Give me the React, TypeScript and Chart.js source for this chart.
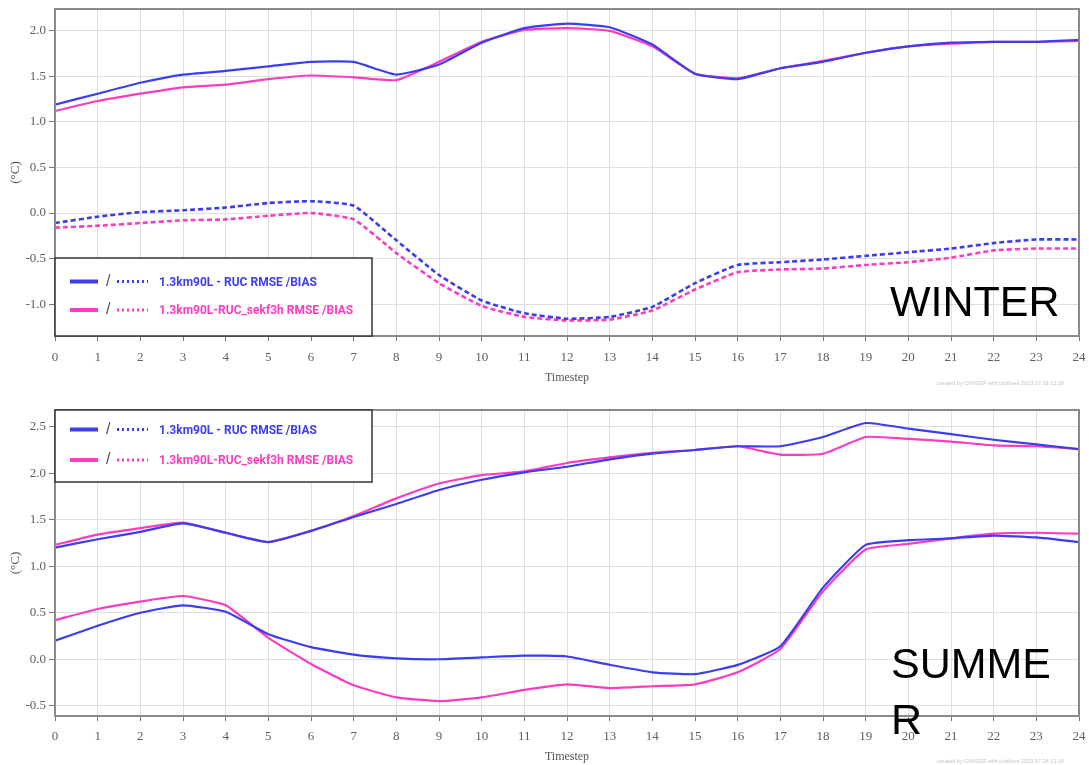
import React, { useEffect, useRef } from "react";
import { Chart, registerables } from "chart.js";

Chart.register(...registerables);

const timesteps = [0, 1, 2, 3, 4, 5, 6, 7, 8, 9, 10, 11, 12, 13, 14, 15, 16, 17, 18, 19, 20, 21, 22, 23, 24];

const winterRmseRuc = [1.19, 1.31, 1.43, 1.52, 1.56, 1.61, 1.66, 1.66, 1.52, 1.63, 1.87, 2.03, 2.08, 2.04, 1.85, 1.53, 1.47, 1.59, 1.66, 1.76, 1.83, 1.87, 1.88, 1.88, 1.9];
const winterRmseSekf = [1.12, 1.23, 1.31, 1.38, 1.41, 1.47, 1.51, 1.49, 1.46, 1.66, 1.88, 2.01, 2.03, 2.0, 1.83, 1.53, 1.48, 1.59, 1.67, 1.76, 1.83, 1.86, 1.88, 1.88, 1.89];
const winterBiasRuc = [-0.11, -0.04, 0.01, 0.03, 0.06, 0.11, 0.13, 0.08, -0.3, -0.68, -0.96, -1.1, -1.16, -1.14, -1.03, -0.77, -0.57, -0.54, -0.51, -0.47, -0.43, -0.39, -0.33, -0.29, -0.29];
const winterBiasSekf = [-0.16, -0.14, -0.11, -0.08, -0.07, -0.03, 0.0, -0.07, -0.44, -0.77, -1.02, -1.14, -1.18, -1.17, -1.07, -0.84, -0.65, -0.62, -0.61, -0.57, -0.54, -0.49, -0.41, -0.39, -0.39];

const summerRmseRuc = [1.2, 1.29, 1.37, 1.46, 1.36, 1.26, 1.38, 1.53, 1.67, 1.82, 1.93, 2.01, 2.07, 2.15, 2.21, 2.25, 2.29, 2.29, 2.39, 2.54, 2.48, 2.42, 2.36, 2.31, 2.26];
const summerRmseSekf = [1.23, 1.34, 1.41, 1.47, 1.36, 1.26, 1.38, 1.54, 1.73, 1.89, 1.98, 2.02, 2.11, 2.17, 2.22, 2.25, 2.29, 2.2, 2.21, 2.39, 2.37, 2.34, 2.3, 2.29, 2.26];
const summerBiasRuc = [0.2, 0.36, 0.5, 0.58, 0.51, 0.27, 0.13, 0.05, 0.01, 0.0, 0.02, 0.04, 0.03, -0.06, -0.14, -0.16, -0.06, 0.14, 0.77, 1.23, 1.28, 1.3, 1.33, 1.31, 1.26];
const summerBiasSekf = [0.42, 0.54, 0.62, 0.68, 0.58, 0.23, -0.05, -0.28, -0.41, -0.45, -0.41, -0.33, -0.27, -0.31, -0.29, -0.27, -0.14, 0.11, 0.73, 1.18, 1.24, 1.3, 1.35, 1.36, 1.35];

const winterYTicks = [-1.0, -0.5, 0.0, 0.5, 1.0, 1.5, 2.0];
const summerYTicks = [-0.5, 0.0, 0.5, 1.0, 1.5, 2.0, 2.5];

const legendLabels = ["1.3km90L - RUC RMSE /BIAS", "1.3km90L-RUC_sekf3h RMSE /BIAS"];
const xTitle = "Timestep";
const yTitle = "(°C)";
const creditText = "created by CNVSEF with plotlines 2023.07.18 12:16";

const BLUE = "#3d3ded";
const PINK = "#fb3cbf";
const SERIES_COLORS = [BLUE, PINK];

const framePlugin = {
  id: "frameLegend",
  afterDraw(chart: any, _args: any, opts: any) {
    const { ctx, chartArea } = chart;
    ctx.save();
    ctx.strokeStyle = "#8a8a8a";
    ctx.lineWidth = 2;
    ctx.strokeRect(chartArea.left, chartArea.top, chartArea.right - chartArea.left, chartArea.bottom - chartArea.top);

    const x = chartArea.left;
    const w = opts.width;
    const h = opts.height;
    const y = opts.anchor === "bottom" ? chartArea.bottom - h : chartArea.top;
    ctx.fillStyle = "#ffffff";
    ctx.fillRect(x, y, w, h);
    ctx.strokeStyle = "#333333";
    ctx.lineWidth = 1.5;
    ctx.strokeRect(x, y, w, h);
    legendLabels.forEach((label, i) => {
      const cy = y + opts.rows[i];
      const color = SERIES_COLORS[i];
      ctx.setLineDash([]);
      ctx.strokeStyle = color;
      ctx.lineWidth = 4;
      ctx.beginPath();
      ctx.moveTo(x + 15, cy);
      ctx.lineTo(x + 43, cy);
      ctx.stroke();
      ctx.fillStyle = "#555";
      ctx.font = "16px 'Liberation Sans', Arial, sans-serif";
      ctx.textBaseline = "middle";
      ctx.textAlign = "left";
      ctx.fillText("/", x + 51, cy);
      ctx.setLineDash([2, 3]);
      ctx.lineWidth = 3;
      ctx.beginPath();
      ctx.moveTo(x + 62, cy);
      ctx.lineTo(x + 93, cy);
      ctx.stroke();
      ctx.setLineDash([]);
      ctx.fillStyle = color;
      ctx.font = "bold 12px 'Liberation Sans Narrow', 'Roboto', 'Liberation Sans', Arial, sans-serif";
      ctx.fillText(label, x + 104, cy + 1);
    });
    ctx.restore();
  },
};

type PanelProps = {
  width: number;
  height: number;
  top: number;
  padTop: number;
  xAxisHeight: number;
  xTickPad: number;
  titlePadBottom: number;
  yMin: number;
  yMax: number;
  yTicks: number[];
  series: { data: number[]; color: string; dashed: boolean }[];
  legend: { anchor: string; width: number; height: number; rows: number[] };
};

const tickFont = { family: "'Liberation Serif', 'DejaVu Serif', serif", size: 13 };

function Panel(p: PanelProps) {
  const ref = useRef<HTMLCanvasElement | null>(null);
  useEffect(() => {
    if (!ref.current) return;
    const chart = new Chart(ref.current, {
      type: "line",
      data: {
        datasets: p.series.map((s) => ({
          data: timesteps.map((t, i) => ({ x: t, y: s.data[i] })),
          borderColor: s.color,
          backgroundColor: s.color,
          borderWidth: s.dashed ? 2.6 : 2.2,
          borderDash: s.dashed ? [5, 3] : [],
          pointRadius: 0,
          tension: 0.15,
          fill: false,
        })),
      },
      options: {
        responsive: false,
        animation: false,
        layout: { padding: { top: p.padTop, right: 10, left: 0, bottom: 0 } },
        plugins: {
          legend: { display: false },
          tooltip: { enabled: false },
          frameLegend: p.legend,
        } as any,
        scales: {
          x: {
            type: "linear",
            min: 0,
            max: 24,
            afterBuildTicks: (scale: any) => {
              scale.ticks = timesteps.map((v) => ({ value: v }));
            },
            afterFit: (scale: any) => {
              scale.height = p.xAxisHeight;
              scale.paddingLeft = 0;
              scale.paddingRight = 0;
            },
            grid: { color: "#dedede", lineWidth: 1, tickLength: 5, tickColor: "#777", drawTicks: true },
            border: { display: false },
            ticks: {
              color: "#5e5e5e",
              font: tickFont,
              padding: p.xTickPad,
              maxRotation: 0,
              autoSkip: false,
              callback: (v: any) => String(v),
            },
            title: {
              display: true,
              text: xTitle,
              color: "#555",
              font: { family: "'Liberation Serif', 'DejaVu Serif', serif", size: 12 },
              padding: { top: 0, bottom: p.titlePadBottom },
            },
          },
          y: {
            type: "linear",
            min: p.yMin,
            max: p.yMax,
            afterBuildTicks: (scale: any) => {
              scale.ticks = p.yTicks.map((v) => ({ value: v }));
            },
            afterFit: (scale: any) => {
              scale.width = 55;
              scale.paddingTop = 0;
              scale.paddingBottom = 0;
            },
            grid: { color: "#dedede", lineWidth: 1, tickLength: 6, tickColor: "#777", drawTicks: true },
            border: { display: false },
            ticks: {
              color: "#5e5e5e",
              font: tickFont,
              padding: 3,
              callback: (v: any) => Number(v).toFixed(1),
            },
            title: {
              display: true,
              text: yTitle,
              color: "#555",
              font: { family: "'Liberation Serif', 'DejaVu Serif', serif", size: 13 },
              padding: { top: 8, bottom: 0 },
            },
          },
        },
      } as any,
      plugins: [framePlugin],
    });
    return () => chart.destroy();
  }, []);
  return (
    <canvas
      ref={ref}
      width={p.width}
      height={p.height}
      style={{ position: "absolute", left: 0, top: p.top, width: p.width, height: p.height }}
    />
  );
}

const bigText: React.CSSProperties = {
  position: "absolute",
  fontFamily: "'Liberation Sans', Arial, Helvetica, sans-serif",
  fontSize: 43,
  lineHeight: "56px",
  color: "#000",
};

const creditStyle: React.CSSProperties = {
  position: "absolute",
  fontFamily: "'Liberation Sans', Arial, sans-serif",
  fontSize: 5.5,
  lineHeight: "7px",
  color: "#c4c4c4",
  whiteSpace: "nowrap",
};

export default function App() {
  return (
    <div style={{ position: "absolute", left: 0, top: 0, width: 1089, height: 765, background: "#fff", overflow: "hidden" }}>
      <Panel
        width={1089}
        height={390}
        top={0}
        padTop={9}
        xAxisHeight={54}
        xTickPad={9}
        titlePadBottom={5}
        yMin={-1.35}
        yMax={2.24}
        yTicks={winterYTicks}
        series={[
          { data: winterRmseRuc, color: BLUE, dashed: false },
          { data: winterBiasRuc, color: BLUE, dashed: true },
          { data: winterRmseSekf, color: PINK, dashed: false },
          { data: winterBiasSekf, color: PINK, dashed: true },
        ]}
        legend={{ anchor: "bottom", width: 317, height: 78, rows: [23.5, 52] }}
      />
      <Panel
        width={1089}
        height={375}
        top={390}
        padTop={20}
        xAxisHeight={49}
        xTickPad={8}
        titlePadBottom={1}
        yMin={-0.61}
        yMax={2.68}
        yTicks={summerYTicks}
        series={[
          { data: summerRmseRuc, color: BLUE, dashed: false },
          { data: summerBiasRuc, color: BLUE, dashed: false },
          { data: summerRmseSekf, color: PINK, dashed: false },
          { data: summerBiasSekf, color: PINK, dashed: false },
        ]}
        legend={{ anchor: "top", width: 317, height: 72, rows: [19.5, 50] }}
      />
      <div style={{ ...bigText, left: 890, top: 273 }}>WINTER</div>
      <div style={{ ...bigText, left: 891, top: 635, width: 176, wordBreak: "break-all" }}>SUMMER</div>
      <div style={{ ...creditStyle, left: 937, top: 380 }}>{creditText}</div>
      <div style={{ ...creditStyle, left: 937, top: 758 }}>{creditText}</div>
    </div>
  );
}
